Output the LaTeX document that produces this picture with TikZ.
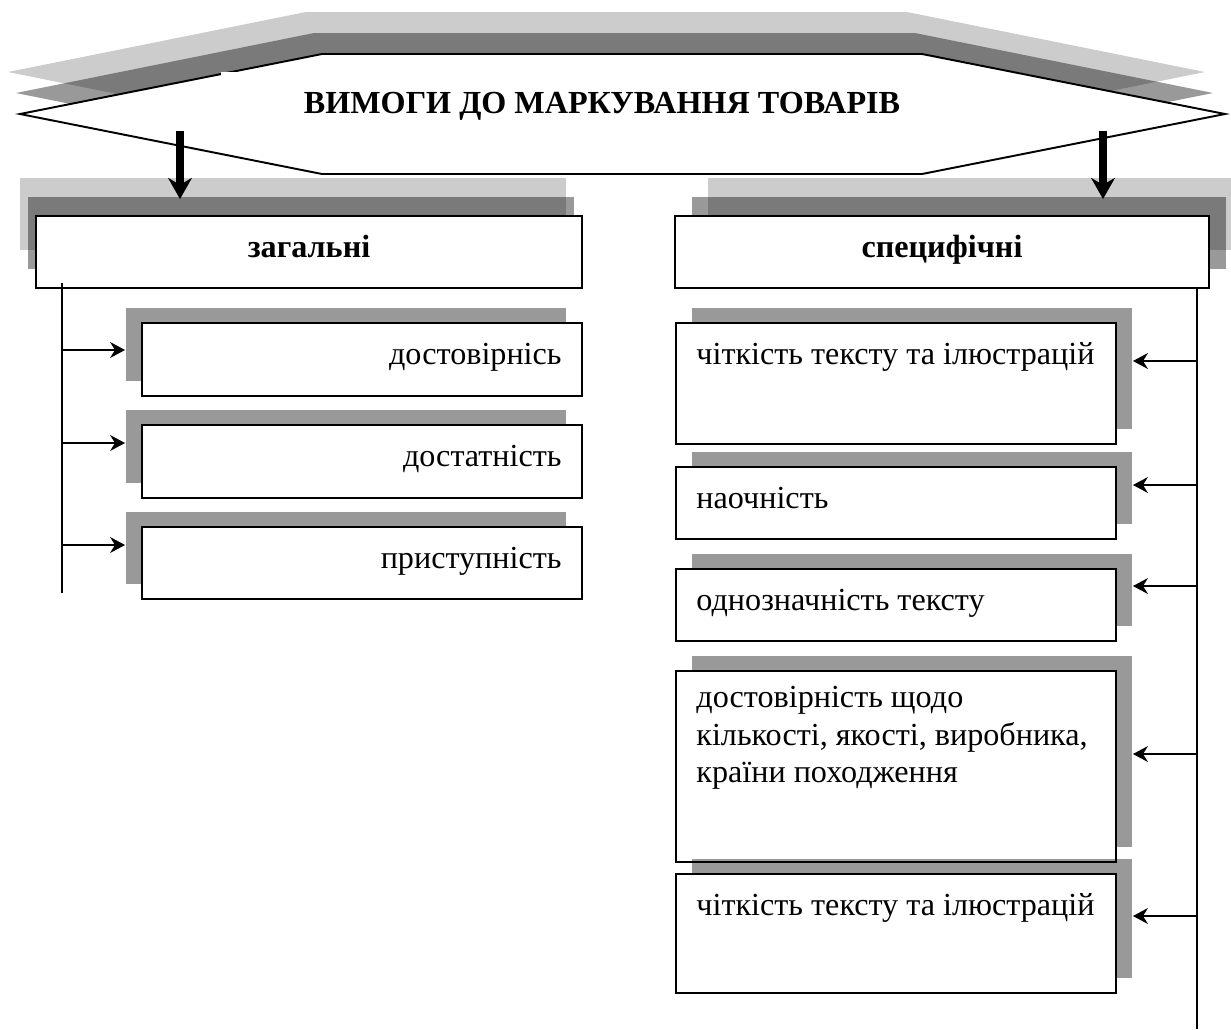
\documentclass[tikz,border=0pt]{standalone}
\usepackage{fontspec}
\setmainfont{Liberation Serif}
\usetikzlibrary{arrows.meta,shadows}
\definecolor{ink}{HTML}{000000}
\definecolor{shadelight}{HTML}{CCCCCC}
\newcommand{\boxfont}{\fontsize{18.3}{21.3}\selectfont}
\tikzset{
 every node/.append style={font=\boxfont,text=ink},
 box/.style={draw=ink,fill=white,line width=1.1pt,inner sep=0pt,minimum width=8.8cm},
 headleft/.style={box,minimum height=1.44cm,
   general shadow={fill=shadelight,shadow xshift=-.32cm,shadow yshift=.76cm},
   general shadow={fill=black,fill opacity=.4,shadow xshift=-.16cm,shadow yshift=.38cm}},
 headright/.style={box,minimum height=1.44cm,
   general shadow={fill=shadelight,shadow xshift=.66cm,shadow yshift=.76cm},
   general shadow={fill=black,fill opacity=.4,shadow xshift=.34cm,shadow yshift=.38cm}},
 itemleft/.style={box,general shadow={fill=black,fill opacity=.4,shadow xshift=-.32cm,shadow yshift=.3cm}},
 itemright/.style={box,general shadow={fill=black,fill opacity=.4,shadow xshift=.32cm,shadow yshift=.3cm}},
 itemtext/.style={inner sep=0pt,execute at begin node=\strut},
 headtext/.style={itemtext,font=\boxfont\bfseries},
 trunk/.style={draw=ink,line width=1.1pt},
 link/.style={-{Stealth[length=8.5pt,width=9pt]},draw=ink,line width=1.1pt,shorten >=.32cm},
 down/.style={-{Stealth[length=12pt,width=13.5pt]},draw=ink,line width=4pt,shorten >=.32cm},
}

\begin{document}
\begin{tikzpicture}[x=.02cm,y=-.02cm]
\useasboundingbox (0,0) rectangle (1231,1029);

% title plate and its two shadows
\fill[shadelight] (8,72) -- (306,12) -- (907,12) -- (1205,72) -- (907,132) -- (306,132) -- cycle;
\fill[black,fill opacity=.4] (16,93) -- (314,33) -- (915,33) -- (1213,93) -- (915,153) -- (314,153) -- cycle;
\draw[ink,fill=white,line width=1.1pt]
  (20,114) -- (322,54) -- (922,54) -- (1225,114) -- (922,174) -- (322,174) -- cycle;
\fill[white] (221,72) rectangle (300,92);
\node[headtext,anchor=north] (title) at (602,87) {ВИМОГИ ДО МАРКУВАННЯ ТОВАРІВ};

% two groups
\node[headleft,minimum width=10.92cm] (zag) at (309,252) {};
\node[headtext,anchor=north] (zagt) at ([shift={(0,16)}]zag.north) {загальні};
\node[headright,minimum width=10.68cm] (spec) at (942,252) {};
\node[headtext,anchor=north] (spect) at ([shift={(0,16)}]spec.north) {специфічні};

\coordinate (hl) at (180,131);
\coordinate (hr) at (1103,131);
\draw[down] (hl) -- (hl |- zag.north);
\draw[down] (hr) -- (hr |- spec.north);

% general requirements
\node[itemleft,minimum height=1.46cm] (l1) at (362,359.5) {};
\node[itemleft,minimum height=1.46cm] (l2) at (362,461.5) {};
\node[itemleft,minimum height=1.44cm] (l3) at (362,563) {};
\node[itemtext,anchor=north east] (l1t) at ([shift={(-21,16)}]l1.north east) {достовірнісь};
\node[itemtext,anchor=north east] (l2t) at ([shift={(-21,16)}]l2.north east) {достатність};
\node[itemtext,anchor=north east] (l3t) at ([shift={(-21,16)}]l3.north east) {приступність};

\coordinate (ltop) at (62,283);
\coordinate (lend) at (62,593);
\draw[trunk] (ltop) -- (lend);
\foreach \y/\b in {350/l1,443/l2,545/l3} {
  \coordinate (lj) at (62,\y);
  \draw[link] (lj) -- (lj -| \b.west);
}

% specific requirements
\node[itemright,minimum height=2.42cm] (r1) at (896,383.5) {};
\node[itemright,minimum height=1.44cm] (r2) at (896,503) {};
\node[itemright,minimum height=1.44cm] (r3) at (896,605) {};
\node[itemright,minimum height=3.82cm] (r4) at (896,766.5) {};
\node[itemright,minimum height=2.38cm] (r5) at (896,933.5) {};
\node[itemtext,anchor=north west] (r1t) at ([shift={(21,16)}]r1.north west) {чіткість тексту та ілюстрацій};
\node[itemtext,anchor=north west] (r2t) at ([shift={(21,16)}]r2.north west) {наочність};
\node[itemtext,anchor=north west] (r3t) at ([shift={(21,16)}]r3.north west) {однозначність тексту};
\node[itemtext,anchor=north west,align=left] (r4t) at ([shift={(21,16)}]r4.north west)
  {достовірність щодо\\кількості, якості, виробника,\\країни походження};
\node[itemtext,anchor=north west] (r5t) at ([shift={(21,16)}]r5.north west) {чіткість тексту та ілюстрацій};

\coordinate (rtop) at (1197,288);
\coordinate (rend) at (1197,1029);
\draw[trunk] (rtop) -- (rend);
\foreach \y/\b in {361/r1,485/r2,586/r3,754/r4,916/r5} {
  \coordinate (rj) at (1197,\y);
  \draw[link] (rj) -- (rj -| \b.east);
}
\end{tikzpicture}
\end{document}
